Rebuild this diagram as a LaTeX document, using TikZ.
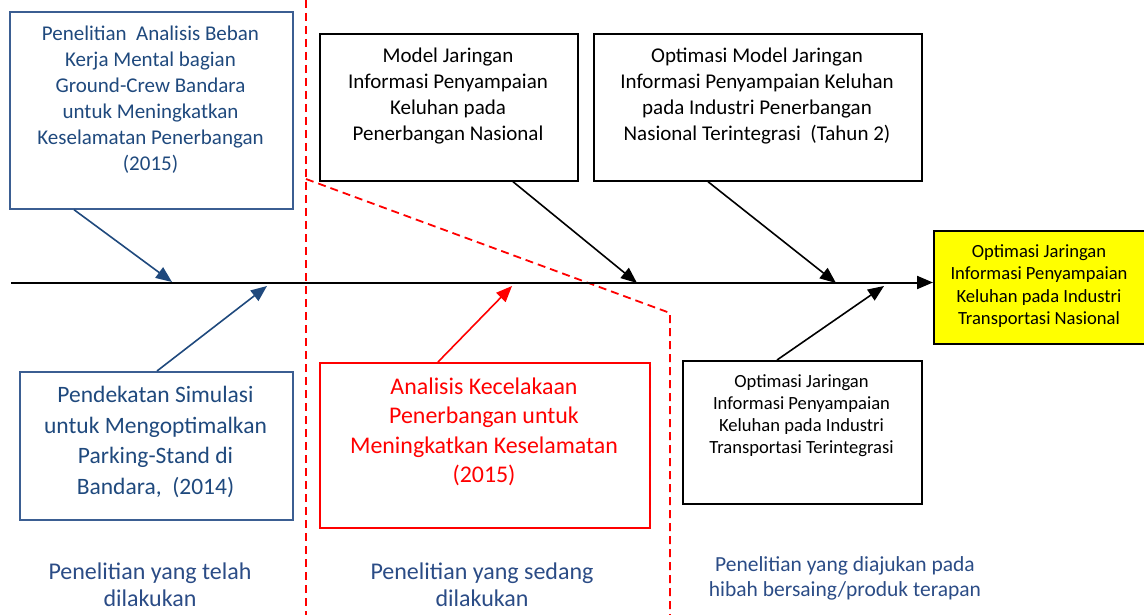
\documentclass[tikz,border=0pt]{standalone}
\usepackage{fontspec}
\setmainfont{Carlito}
\usetikzlibrary{arrows.meta}
\definecolor{dblue}{HTML}{1F497D}
\definecolor{bborder}{HTML}{3B5E92}
\definecolor{lblue}{HTML}{2B4C86}
\definecolor{myred}{HTML}{FF0000}
\definecolor{myyellow}{HTML}{FFFF00}
\tikzset{
  box/.style={draw, line width=1.7pt, inner sep=0pt, anchor=north west},
  bluebox/.style={box, draw=bborder},
  redbox/.style={box, draw=myred},
  txt/.style={align=center, inner sep=0pt},
  fnA/.style={font={\fontsize{21}{26}\selectfont}},
  fnB/.style={font={\fontsize{23.5}{30.7}\selectfont}},
  fnC/.style={font={\fontsize{18.6}{22.5}\selectfont}},
  arr/.style={line width=1.6pt, -{Triangle[length=16pt,width=13pt]}},
  reddash/.style={draw=myred, line width=1.8pt, dash pattern=on 8pt off 5pt},
}
\begin{document}
\begin{tikzpicture}[x=1pt,y=-1pt]
\useasboundingbox (0,0) rectangle (1144,615);
\clip (0,0) rectangle (1144,615);

% dashed separators
\draw[reddash] (306,0) -- (306,615);
\draw[reddash] (306,179) -- (670,313) -- (670,615);

% boxes
\node[bluebox, minimum width=283pt, minimum height=197pt] (tl) at (9,11) {};
\node[txt, fnA, text=dblue] (tlT) at (150.5,100) {Penelitian\ \ Analisis Beban\\Kerja Mental bagian\\Ground-Crew Bandara\\untuk Meningkatkan\\Keselamatan Penerbangan\\(2015)};

\node[bluebox, minimum width=273pt, minimum height=148pt] (bl) at (19,371) {};
\node[txt, fnB, text=dblue] (blT) at (155.5,442) {Pendekatan Simulasi\\untuk Mengoptimalkan\\Parking-Stand di\\Bandara,\ \ (2014)};

\node[box, minimum width=258pt, minimum height=147pt] (model) at (319,33) {};
\node[txt, fnA] (modelT) at (448,96) {Model Jaringan\\Informasi Penyampaian\\Keluhan pada\\Penerbangan Nasional};

\node[box, minimum width=328pt, minimum height=147pt] (opt) at (593,33) {};
\node[txt, fnA] (optT) at (757,96) {Optimasi Model Jaringan\\Informasi Penyampaian Keluhan\\pada Industri Penerbangan\\Nasional Terintegrasi\ \ (Tahun 2)};

\node[redbox, minimum width=330pt, minimum height=165pt] (red) at (319,362) {};
\node[txt, text=myred, font={\fontsize{23.9}{29.5}\selectfont}] (redT) at (484,432) {Analisis Kecelakaan\\Penerbangan untuk\\Meningkatkan Keselamatan\\(2015)};

\node[box, minimum width=239pt, minimum height=143pt] (br) at (682,360) {};
\node[txt, font={\fontsize{18.6}{22}\selectfont}] (brT) at (801.5,416) {Optimasi Jaringan\\Informasi Penyampaian\\Keluhan pada Industri\\Transportasi Terintegrasi};

\node[box, fill=myyellow, minimum width=216pt, minimum height=113pt] (goal) at (933,230) {};
\node[txt, fnC] (goalT) at (1039,286) {Optimasi Jaringan\\Informasi Penyampaian\\Keluhan pada Industri\\Transportasi Nasional};

% spine
\coordinate (s0) at (11,282.5);
\draw[arr, line width=2pt] (s0) -- (goal.west |- s0);

% bone tips
\coordinate (t1) at (172,282);
\coordinate (t2) at (267,286);
\coordinate (t3) at (637,283);
\coordinate (t4) at (836,283);
\coordinate (t5) at (512,286);
\coordinate (t6) at (884,286);

\draw[arr, draw=dblue, fill=dblue] (74,0 |- tl.south) -- (t1);
\draw[arr, draw=dblue, fill=dblue] (157,0 |- bl.north) -- (t2);
\draw[arr] (513,0 |- model.south) -- (t3);
\draw[arr] (708,0 |- opt.south) -- (t4);
\draw[arr, draw=myred, fill=myred] (438,0 |- red.north) -- (t5);
\draw[arr] (777,0 |- br.north) -- (t6);

% bottom labels
\node[txt, text=lblue, font={\fontsize{24}{27}\selectfont}] (lab1) at (150,585) {Penelitian yang telah\\dilakukan};
\node[txt, text=lblue, font={\fontsize{24}{27}\selectfont}] (lab2) at (482,585) {Penelitian yang sedang\\dilakukan};
\node[txt, text=lblue, font={\fontsize{21.5}{25}\selectfont}] (lab3) at (845,578) {Penelitian yang diajukan pada\\hibah bersaing/produk terapan};
\end{tikzpicture}
\end{document}
